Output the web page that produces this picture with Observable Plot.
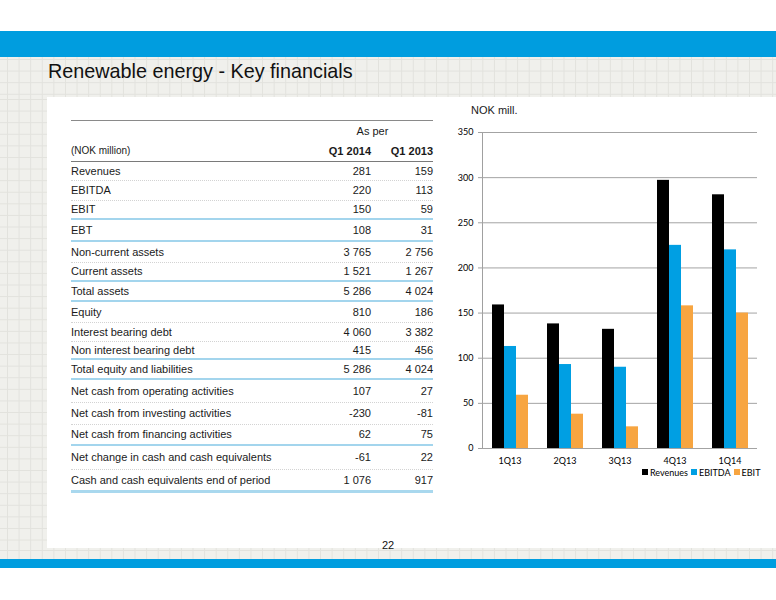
<!DOCTYPE html>
<html><head><meta charset="utf-8">
<script src="https://cdn.jsdelivr.net/npm/d3@7"></script>
<script src="https://cdn.jsdelivr.net/npm/@observablehq/plot@0.6"></script>
<style>
html,body{margin:0;padding:0;}
body{width:776px;height:600px;position:relative;overflow:hidden;background:#fff;font-family:"Liberation Sans",Arial,sans-serif;color:#1a1a1a;}
.abs{position:absolute;}
.grid{position:absolute;background-color:#f0f0ec;
 background-image:linear-gradient(to right,#e2e2dd 1px,transparent 1px),linear-gradient(to bottom,#e2e2dd 1px,transparent 1px);
 background-size:11.6px 11.6px;background-position:7px 2px;}
.blue{position:absolute;left:0;width:776px;background:#009ddf;}
#title{left:48px;top:61px;font-size:19.8px;line-height:20px;color:#111;white-space:nowrap;}
#tbl{left:71px;top:120px;width:362px;font-size:11px;color:#1a1a1a;}
.row{display:flex;align-items:center;box-sizing:border-box;white-space:nowrap;}
.lab{width:229px;}
.v1{width:71px;text-align:right;}
.v2{width:62px;text-align:right;}
#chart{left:440px;top:120px;}
#chart svg text{fill:#000;}
#nok{left:471px;top:104px;font-size:11px;color:#1a1a1a;}
#legend{left:642px;top:467.5px;font-family:Lato,sans-serif;font-size:9px;line-height:9px;color:#000;display:flex;align-items:center;white-space:nowrap;}
#legend .sw{display:inline-block;width:6px;height:6px;margin-right:2px;}
#legend .it{display:flex;align-items:center;margin-right:3px;}
#page{left:376px;top:539px;width:24px;text-align:center;font-size:11px;color:#111;}
</style></head>
<body>
<script>
// ---------- data ----------
const quarters = ["1Q13","2Q13","3Q13","4Q13","1Q14"];
const seriesNames = ["Revenues","EBITDA","EBIT"];
const revenues = [159,138,132,297,281];
const ebitda   = [113,93,90,225,220];
const ebit     = [59,38,24,158,150];
const yTicks = [0,50,100,150,200,250,300,350];
const seriesColors = ["#000000","#009fe3","#f7a541"];

const rowLabels = ["Revenues","EBITDA","EBIT","EBT","Non-current assets","Current assets","Total assets",
 "Equity","Interest bearing debt","Non interest bearing debt","Total equity and liabilities",
 "Net cash from operating activities","Net cash from investing activities","Net cash from financing activities",
 "Net change in cash and cash equivalents","Cash and cash equivalents end of period"];
const q1_2014 = [281,220,150,108,3765,1521,5286,810,4060,415,5286,107,-230,62,-61,1076];
const q1_2013 = [159,113,59,31,2756,1267,4024,186,3382,456,4024,27,-81,75,22,917];
const sectionEnds = [2,3,5,6,9,10,13,15];
const colHeaders = ["Q1 2014","Q1 2013"];
const unitLabel = "(NOK million)";
const groupHeader = "As per";

// ---------- page frame ----------
function div(cls, id, css, text){const d=document.createElement("div"); if(cls) d.className=cls; if(id) d.id=id; if(css) d.style.cssText=css; if(text!=null) d.textContent=text; document.body.appendChild(d); return d;}
div("blue",null,"top:31px;height:26px;");
div("grid",null,"left:0;top:57px;width:776px;height:40px;");
div("grid",null,"left:0;top:97px;width:47px;height:451px;");
div("grid",null,"left:0;top:548px;width:776px;height:11px;");
div("blue",null,"top:559px;height:9px;");
div("abs","title",null,"Renewable energy - Key financials");
div("abs","page",null,"22");
div("abs","nok",null,"NOK mill.");

// ---------- table ----------
const fmt = d3.formatLocale({decimal:",",thousands:" ",grouping:[3],currency:["",""],minus:"-"}).format(",d");
const tbl = div("abs","tbl");
tbl.style.borderTop = "1.5px solid #8a8a8a";
const h1 = document.createElement("div"); h1.className="row"; h1.style.height="19px";
h1.innerHTML = `<span class="lab"></span><span style="width:133px;text-align:center;padding-left:12px;box-sizing:border-box">${groupHeader}</span>`;
tbl.appendChild(h1);
const h2 = document.createElement("div"); h2.className="row"; h2.style.height="22px"; h2.style.borderBottom="1px solid #7a7a7a";
h2.innerHTML = `<span class="lab" style="font-size:10px">${unitLabel}</span><span class="v1" style="font-weight:bold">${colHeaders[0]}</span><span class="v2" style="font-weight:bold">${colHeaders[1]}</span>`;
tbl.appendChild(h2);
const rowHeights = [19.3,19.3,19.4,22,21,19,20,21,19,18,20,23,22,21,24,23];
rowLabels.forEach((lab,i)=>{
  const r=document.createElement("div"); r.className="row"; r.style.height=rowHeights[i]+"px";
  if(sectionEnds.includes(i)) r.style.borderBottom = (i===rowLabels.length-1) ? "3px solid #a9d8ee" : "2px solid #a3d5ed";
  else r.style.borderBottom = "1px dotted #d3d3d3";
  r.innerHTML = `<span class="lab"></span><span class="v1"></span><span class="v2"></span>`;
  r.children[0].textContent = lab;
  r.children[1].textContent = fmt(q1_2014[i]);
  r.children[2].textContent = fmt(q1_2013[i]);
  tbl.appendChild(r);
});

// ---------- chart ----------
const seriesValues = [revenues, ebitda, ebit];
const data = quarters.flatMap((q,i)=>seriesNames.map((s,j)=>({quarter:q, series:s, value:seriesValues[j][i]})));
const chart = Plot.plot({
  width: 327, height: 350,
  marginLeft: 41, marginRight: 10, marginTop: 12, marginBottom: 22,
  style: {fontFamily: "Lato, sans-serif", fontSize: "9px", color: "#a0a0a0", background: "transparent", overflow: "visible"},
  fx: {domain: quarters, padding: 0, label: null, tickSize: 0, tickPadding: 9.5, axis: "bottom"},
  x: {domain: seriesNames, paddingInner: 0, paddingOuter: 0.675, axis: null},
  y: {domain: [0,350], ticks: yTicks, tickSize: 4, tickPadding: 5, line: true, label: null},
  color: {domain: seriesNames, range: seriesColors},
  marks: [
    Plot.ruleY(yTicks, {stroke: "#a3a3a3"}),
    Plot.barY(data, {fx: "quarter", x: "series", y: "value", fill: "series"})
  ]
});
const holder = div("abs","chart"); holder.appendChild(chart);

// ---------- legend ----------
const leg = div("abs","legend");
seriesNames.forEach((s,j)=>{
  const it=document.createElement("span"); it.className="it";
  it.innerHTML=`<span class="sw" style="background:${seriesColors[j]}"></span><span></span>`;
  it.children[1].textContent=s; leg.appendChild(it);
});
</script>
</body></html>
